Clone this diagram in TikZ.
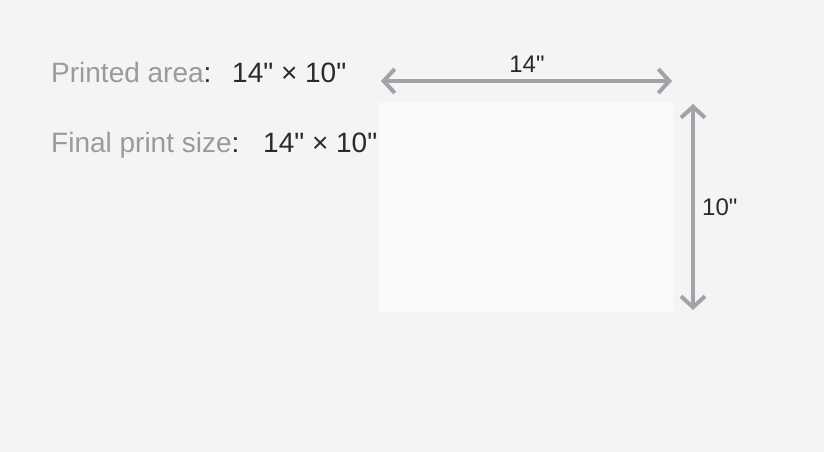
\documentclass[tikz,border=0pt]{standalone}
\usepackage{fontspec}
\setmainfont{Liberation Sans}[Ligatures=ResetAll]
\usetikzlibrary{arrows.meta}
\definecolor{bg}{HTML}{F4F4F4}
\definecolor{paper}{HTML}{F9F9F9}
\definecolor{lbl}{HTML}{9A9A9A}
\definecolor{val}{HTML}{2A2A2A}
\definecolor{dim}{HTML}{A0A4A9}
\newcommand{\inch}{\XeTeXglyph\the\XeTeXcharglyph"22\relax}
\tikzset{
  infotxt/.style={anchor=base west, inner sep=0pt, font=\fontsize{28}{32}\selectfont},
  dimtxt/.style={inner sep=0pt, text=val, font=\fontsize{24}{28}\selectfont},
  dimline/.style={draw=dim, line width=4pt,
    {Straight Barb[length=11pt,width=24pt,line width=4pt]}-{Straight Barb[length=11pt,width=24pt,line width=4pt]}},
}
\begin{document}
\begin{tikzpicture}[x=1pt,y=-1pt]
\fill[bg] (0,0) rectangle (824,452);
\useasboundingbox (0,0) rectangle (824,452);
\node[fill=paper, minimum width=295pt, minimum height=210pt, inner sep=0pt, anchor=north west] (sheet) at (379,102) {};
\coordinate (h1) at (381,81);
\coordinate (h2) at (672,81);
\coordinate (v1) at (693,104);
\coordinate (v2) at (693,310);
\draw[dimline] (h1) -- (h2);
\draw[dimline] (v1) -- (v2);
\node[dimtxt, anchor=base] (wlab) at (527,73) {14\inch};
\node[dimtxt, anchor=base west] (hlab) at (702,215) {10\inch};
\node[infotxt] (pa) at (51,82) {\textcolor{lbl}{Printed area}\textcolor{val}{:}};
\node[infotxt, text=val] (pav) at (232,82) {14\inch{} × 10\inch};
\node[infotxt] (fp) at (51,152) {\textcolor{lbl}{Final print size}\textcolor{val}{:}};
\node[infotxt, text=val] (fpv) at (263,152) {14\inch{} × 10\inch};
\end{tikzpicture}
\end{document}
